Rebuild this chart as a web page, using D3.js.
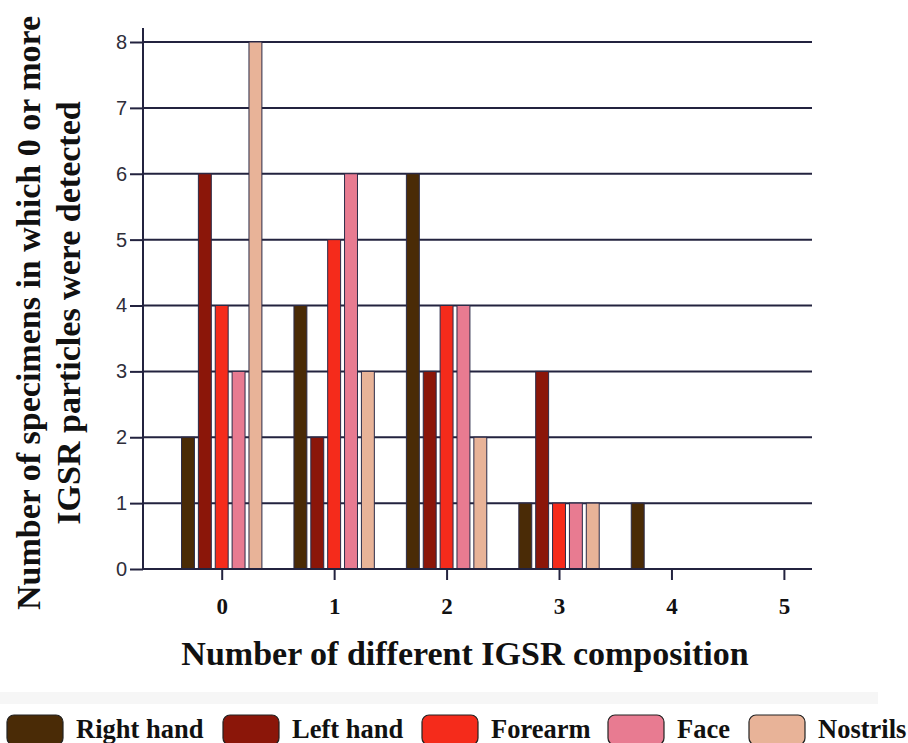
<!DOCTYPE html>
<html>
<head>
<meta charset="utf-8">
<script src="https://cdn.jsdelivr.net/npm/d3@7"></script>
<style>
  body { margin: 0; background: #fff; }
  svg { display: block; }
</style>
</head>
<body>
<div id="chart"></div>
<script>
// data
var categories = [0, 1, 2, 3, 4, 5];
var seriesNames = ['Right hand', 'Left hand', 'Forearm', 'Face', 'Nostrils'];
var rightHand = [2, 4, 6, 1, 1, 0];
var leftHand = [6, 2, 3, 3, 0, 0];
var forearm = [4, 5, 4, 1, 0, 0];
var face = [3, 6, 4, 1, 0, 0];
var nostrils = [8, 3, 2, 1, 0, 0];
var yTicks = [0, 1, 2, 3, 4, 5, 6, 7, 8];
var colors = ['#4a2b06', '#8b1609', '#f52b1b', '#e87b91', '#e8b398'];

var seriesValues = [rightHand, leftHand, forearm, face, nostrils];

(function () {
  var W = 908, H = 743;
  var svg = d3.select('#chart').append('svg')
    .attr('width', W)
    .attr('height', H);

  var plotLeft = 143, plotRight = 812, plotTop = 42, plotBottom = 569;

  var x = d3.scaleLinear().domain([-0.7, 5.25]).range([plotLeft, plotRight]);
  var y = d3.scaleLinear().domain([0, 8]).range([plotBottom, plotTop]);

  var step = 0.15, barW = 0.115;
  var ink = '#23233f';
  var serif = '"Liberation Serif", "Times New Roman", serif';

  // gridlines
  svg.append('g')
    .selectAll('line')
    .data(yTicks.filter(function (d) { return d > 0; })).enter()
    .append('line')
    .attr('x1', plotLeft).attr('x2', plotRight)
    .attr('y1', function (d) { return y(d); })
    .attr('y2', function (d) { return y(d); })
    .attr('stroke', ink)
    .attr('stroke-width', 2);

  // bars
  var bars = [];
  seriesValues.forEach(function (vals, s) {
    vals.forEach(function (v, i) {
      if (v > 0) bars.push({ s: s, cat: categories[i], v: v });
    });
  });

  svg.selectAll('.bar')
    .data(bars).enter()
    .append('rect')
    .attr('class', 'bar')
    .attr('x', function (d) { return x(d.cat + (d.s - 2) * step - barW / 2); })
    .attr('width', function (d) { return x(barW) - x(0); })
    .attr('y', function (d) { return y(d.v); })
    .attr('height', function (d) { return y(0) - y(d.v); })
    .attr('fill', function (d) { return colors[d.s]; })
    .attr('stroke', '#2b2b48')
    .attr('stroke-width', 1);

  // y axis
  var yAxis = d3.axisLeft(y).tickValues(yTicks).tickSize(13).tickPadding(3)
    .tickFormat(d3.format('d'));
  var gy = svg.append('g')
    .attr('transform', 'translate(' + plotLeft + ',0)')
    .call(yAxis);
  gy.select('.domain').remove();
  gy.selectAll('.tick line').attr('stroke', ink).attr('stroke-width', 2);
  gy.selectAll('.tick text')
    .attr('fill', '#2e2e3a')
    .attr('font-family', 'Arial, "Liberation Sans", sans-serif')
    .attr('font-size', 20);
  svg.append('line')
    .attr('x1', plotLeft).attr('x2', plotLeft)
    .attr('y1', 28).attr('y2', plotBottom)
    .attr('stroke', ink).attr('stroke-width', 2);

  // x axis
  var xAxis = d3.axisBottom(x).tickValues(categories).tickSize(11).tickPadding(18)
    .tickFormat(d3.format('d'));
  var gx = svg.append('g')
    .attr('transform', 'translate(0,' + plotBottom + ')')
    .call(xAxis);
  gx.select('.domain').remove();
  gx.selectAll('.tick line').attr('stroke', ink).attr('stroke-width', 2);
  gx.selectAll('.tick text')
    .attr('fill', '#111')
    .attr('font-family', serif)
    .attr('font-weight', 'bold')
    .attr('font-size', 23);
  svg.append('line')
    .attr('x1', plotLeft).attr('x2', plotRight)
    .attr('y1', plotBottom).attr('y2', plotBottom)
    .attr('stroke', ink).attr('stroke-width', 2);

  // titles
  svg.append('text')
    .attr('x', 465).attr('y', 665)
    .attr('text-anchor', 'middle')
    .style('font-family', serif)
    .style('font-weight', 'bold')
    .style('font-size', '34px')
    .attr('fill', '#111')
    .text('Number of different IGSR composition');

  svg.append('text')
    .attr('transform', 'translate(40,313) rotate(-90)')
    .attr('text-anchor', 'middle')
    .style('font-family', serif)
    .style('font-weight', 'bold')
    .style('font-size', '34px')
    .attr('fill', '#111')
    .text('Number of specimens in which 0 or more');
  svg.append('text')
    .attr('transform', 'translate(80,313) rotate(-90)')
    .attr('text-anchor', 'middle')
    .style('font-family', serif)
    .style('font-weight', 'bold')
    .style('font-size', '34px')
    .attr('fill', '#111')
    .text('IGSR particles were detected');

  // legend
  svg.append('rect')
    .attr('x', 0).attr('y', 692)
    .attr('width', 878).attr('height', 12)
    .attr('fill', '#f6f6f6');

  var legendX = [7, 223, 422, 608, 749];
  var lg = svg.selectAll('.legend')
    .data(seriesNames).enter()
    .append('g')
    .attr('class', 'legend')
    .attr('transform', function (d, i) { return 'translate(' + legendX[i] + ',715)'; });
  lg.append('rect')
    .attr('width', 56).attr('height', 30)
    .attr('rx', 7).attr('ry', 7)
    .attr('fill', function (d, i) { return colors[i]; })
    .attr('stroke', '#222')
    .attr('stroke-width', 1.2);
  lg.append('text')
    .attr('x', function (d, i) { return i === 4 ? 69 : 69; })
    .attr('y', 23)
    .style('font-family', serif)
    .style('font-weight', 'bold')
    .style('font-size', '26.5px')
    .attr('fill', '#111')
    .text(function (d) { return d; });
})();
</script>
</body>
</html>
